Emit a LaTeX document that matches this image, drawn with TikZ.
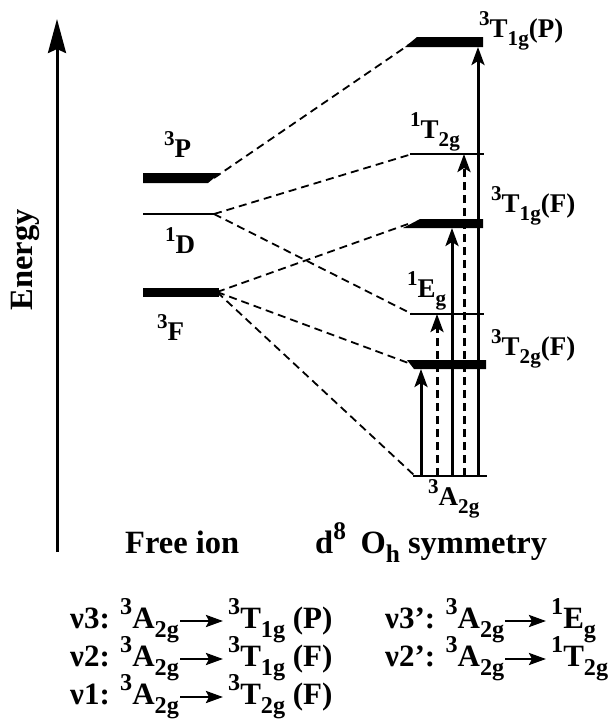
\documentclass[tikz,border=0pt]{standalone}
\usepackage{fontspec}
\setmainfont{Liberation Serif}
\usetikzlibrary{arrows.meta}
\newcommand{\supx}[1]{\raisebox{0.42em}{\scalebox{0.78}{#1}}}
\newcommand{\subx}[1]{\raisebox{-0.3em}{\scalebox{0.78}{#1}}}
\begin{document}
\begin{tikzpicture}[x=1pt,y=-1pt,
  lbl/.style={font=\fontsize{27}{30}\selectfont\bfseries, inner sep=0pt, anchor=base west},
  eqn/.style={font=\fontsize{31}{34}\selectfont\bfseries, inner sep=0pt, anchor=base west},
  big/.style={font=\fontsize{32.5}{36}\selectfont\bfseries, inner sep=0pt, anchor=base west},
  thinlevel/.style={line width=1.9pt},
  bar/.style={fill=black},
  corr/.style={line width=1.8pt, dash pattern=on 8pt off 5pt},
  trans/.style={line width=3pt, -{Stealth[length=18pt,width=13pt,inset=4pt]}},
  transd/.style={trans, dash pattern=on 8pt off 5pt},
  eqarrow/.style={line width=2.6pt, -{Stealth[length=17pt,width=12pt,inset=3pt]}}
]
\useasboundingbox (0,0) rectangle (610,724);
\fill[white] (0,0) rectangle (610,724);

% energy axis
\coordinate (ebot) at (57,552);
\coordinate (etop) at (57,19);
\draw[line width=3pt, -{Stealth[length=34pt,width=18pt,inset=4pt]}] (ebot) -- (etop);
\node[rotate=90, font=\fontsize{32.5}{36}\selectfont\bfseries, inner sep=0pt] (energy) at (25,260) {Energy};

% free-ion terms
\fill[bar] (143,173) -- (220,173) -- (208,183) -- (143,183) -- cycle;
\draw[thinlevel] (143,214) -- (215,214);
\fill[bar] (143,288) -- (219,288) -- (219,297) -- (143,297) -- cycle;
\coordinate (P3) at (214,178);
\coordinate (D1) at (214,214);
\coordinate (F3) at (217,292);
\node[lbl] (lP) at (164,157) {\supx{3}P};
\node[lbl] (lD) at (165,253) {\supx{1}D};
\node[lbl] (lF) at (157,340) {\supx{3}F};

% Oh terms
\fill[bar] (405,47) -- (417,37) -- (483,37) -- (483,47) -- cycle;
\draw[thinlevel] (410,154) -- (484,154);
\fill[bar] (403,228) -- (420,219) -- (483,219) -- (483,228) -- cycle;
\draw[thinlevel] (410,314) -- (484,314);
\fill[bar] (407,360) -- (486,360) -- (486,369) -- (414,369) -- cycle;
\draw[thinlevel] (413,476) -- (487,476);

\coordinate (T1P) at (410,44);
\coordinate (T2s) at (412,154);
\coordinate (T1F) at (408,224);
\coordinate (Eg) at (412,314);
\coordinate (T2F) at (411,364);
\coordinate (A2) at (415,476);

% correlation lines
\draw[corr] (P3) -- (T1P);
\draw[corr] (D1) -- (T2s);
\draw[corr] (D1) -- (Eg);
\draw[corr] (F3) -- (T1F);
\draw[corr] (F3) -- (T2F);
\draw[corr] (F3) -- (A2);

% labels of Oh terms
\node[lbl] (lT1P) at (479,37) {\supx{3}T\subx{1g}(P)};
\node[lbl] (lT2s) at (410,138) {\supx{1}T\subx{2g}};
\node[lbl] (lT1F) at (491,212) {\supx{3}T\subx{1g}(F)};
\node[lbl] (lEg) at (407,297) {\supx{1}E\subx{g}};
\node[lbl] (lT2F) at (491,355) {\supx{3}T\subx{2g}(F)};
\node[lbl] (lA2) at (428,505) {\supx{3}A\subx{2g}};

% transitions
\coordinate (g1) at (421,476); \coordinate (t1) at (421,369);
\coordinate (g2) at (437,476); \coordinate (t2) at (437,314);
\coordinate (g3) at (452,476); \coordinate (t3) at (452,228);
\coordinate (g4) at (464,476); \coordinate (t4) at (464,154);
\coordinate (g5) at (478,476); \coordinate (t5) at (478,47);
\draw[trans] (g1) -- (t1);
\draw[transd] (g2) -- (t2);
\draw[trans] (g3) -- (t3);
\draw[transd] (g4) -- (t4);
\draw[trans] (g5) -- (t5);

% captions
\node[big] (free) at (125,553) {Free ion};
\node[big] (oh) at (315,553) {d\supx{8}\hspace{0.45em}O\subx{h} symmetry};

% assignments
\node[eqn] (l1) at (70,628) {ν3: \supx{3}A\subx{2g}};
\node[eqn] (r1) at (228,628) {\supx{3}T\subx{1g} (P)};
\node[eqn] (l2) at (70,666) {ν2: \supx{3}A\subx{2g}};
\node[eqn] (r2) at (228,666) {\supx{3}T\subx{1g} (F)};
\node[eqn] (l3) at (70,704) {ν1: \supx{3}A\subx{2g}};
\node[eqn] (r3) at (228,704) {\supx{3}T\subx{2g} (F)};
\node[eqn] (l4) at (385,628) {ν3': \supx{3}A\subx{2g}};
\node[eqn] (r4) at (551,628) {\supx{1}E\subx{g}};
\node[eqn] (l5) at (385,666) {ν2': \supx{3}A\subx{2g}};
\node[eqn] (r5) at (551,666) {\supx{1}T\subx{2g}};
\draw[eqarrow] ([xshift=1pt,yshift=7pt]l1.base east) -- ([xshift=-5pt,yshift=7pt]r1.base west);
\draw[eqarrow] ([xshift=1pt,yshift=7pt]l2.base east) -- ([xshift=-5pt,yshift=7pt]r2.base west);
\draw[eqarrow] ([xshift=1pt,yshift=7pt]l3.base east) -- ([xshift=-5pt,yshift=7pt]r3.base west);
\draw[eqarrow] ([xshift=1pt,yshift=7pt]l4.base east) -- ([xshift=-5pt,yshift=7pt]r4.base west);
\draw[eqarrow] ([xshift=1pt,yshift=7pt]l5.base east) -- ([xshift=-5pt,yshift=7pt]r5.base west);
\end{tikzpicture}
\end{document}
